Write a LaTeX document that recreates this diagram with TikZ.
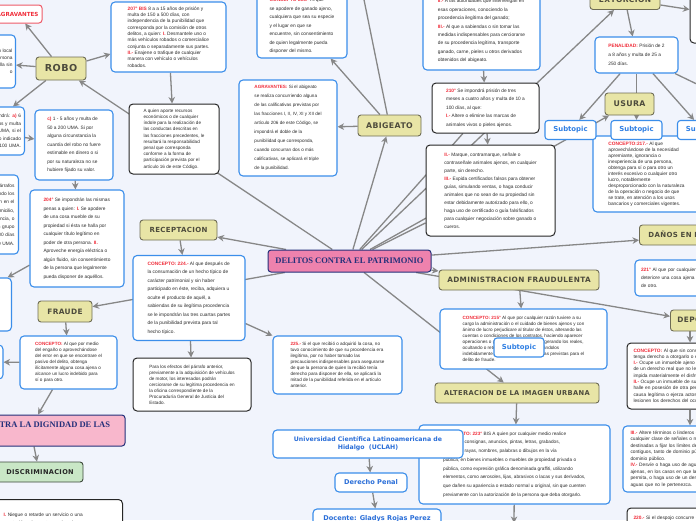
\documentclass[tikz,border=0pt]{standalone}
\usepackage{fontspec}
\setmainfont{Liberation Sans}
\newfontfamily\topf[LetterSpace=5]{DejaVu Sans}
\newfontfamily\uniff{DejaVu Sans}
\newfontfamily\serf{Liberation Serif}
\usetikzlibrary{arrows.meta,calc}
\pgfdeclarelayer{bg}
\pgfsetlayers{bg,main}
\definecolor{bgc}{HTML}{F1F4FC}
\definecolor{blueB}{HTML}{3B8EEA}
\definecolor{redT}{HTML}{F02D3A}
\definecolor{txt}{HTML}{2B2B2B}
\definecolor{khaki}{HTML}{E8E5A6}
\definecolor{khakiB}{HTML}{6F6D55}
\definecolor{topT}{HTML}{4D4B3C}
\definecolor{arrC}{HTML}{878787}
\definecolor{pinkC}{HTML}{EE82AD}
\definecolor{pinkL}{HTML}{F8B7CC}
\definecolor{navy}{HTML}{24307A}
\definecolor{greenF}{HTML}{C9E7C6}
\definecolor{greenB}{HTML}{3E4A3C}
\definecolor{subT}{HTML}{2F7FE3}
\definecolor{uniT}{HTML}{2A6ED8}
\definecolor{agrB}{HTML}{EE5A68}
\newcommand\rd[1]{\textcolor{redT}{\bfseries #1}}
\newcommand\fs[2]{\fontsize{#1}{#2}\selectfont}
\tikzset{
  tbox/.style={draw=blueB, line width=1.1pt, fill=white, rounded corners=4pt, align=left, inner sep=0pt, text=txt},
  kbox/.style={draw=black!85, line width=1pt, fill=white, rounded corners=4pt, align=left, inner sep=0pt, text=txt},
  topic/.style={draw=khakiB, line width=0.9pt, fill=khaki, rounded corners=3pt, text=topT, inner sep=0pt},
  subt/.style={draw=blueB, line width=1.1pt, fill=white, rounded corners=3pt, text=subT, font=\uniff\bfseries\fs{6.9}{8}, minimum width=51pt, minimum height=19pt, inner sep=0pt},
  conn/.style={draw=arrC, line width=1.3pt, -{Stealth[length=6.5pt,width=6.5pt,inset=2pt]}},
  plainl/.style={draw=arrC, line width=1.3pt},
}
\begin{document}
\begin{tikzpicture}[x=1pt,y=-1pt]
\useasboundingbox (0,0) rectangle (696,520);
\begin{pgfonlayer}{bg}
\fill[bgc] (0,0) rectangle (696,520);
\end{pgfonlayer}

% ---------- text boxes ----------
\node[tbox, minimum width=92pt, minimum height=53pt, anchor=east, text width=86pt, align=right, font=\fs{4.8}{7}] (Ttl) at (16,61.5) {Si el robo se comete en un local\\ o en casa habitada por una persona\\ y el activo entra en ella sin\\ o};
\node[tbox, minimum width=85pt, minimum height=48pt, anchor=east, text width=78pt, align=right, font=\fs{4.8}{7.5}] (Tb) at (25,131) {Se impondrá: \rd{a)} 6\\ meses a 2 años y multa\\ de 20 a 100 UMA, si el\\ valor no excede lo indicado\\ de 100 UMA.};
\node[tbox, minimum width=98pt, minimum height=79pt, anchor=east, text width=90pt, align=right, font=\fs{4.8}{8.3}] (Tl2) at (19,214.5) {Las penas de los párrafos\\ se duplicarán cuando los\\ hechos se cometan en el\\ interior de un domicilio,\\ con violencia, o\\ por medio de un grupo\\ y multa de 100 a 300 días\\ o hasta 300 UMA.};
\node[tbox, minimum width=104pt, minimum height=53pt, anchor=east] (Tl3) at (12,304.5) {};
\node[tbox, minimum width=90pt, minimum height=34pt, anchor=east] (Tl4) at (3.5,362) {};

\node[tbox, minimum width=115pt, minimum height=70pt, font=\fs{4.8}{6.3}] (T207) at (168.5,37) {\rd{207° BIS} 8 a a 15 años de prisión y\\ multa de 150 a 500 días, con\\ independencia de la punibilidad que\\ corresponda por la comisión de otros\\ delitos, a quien: \rd{I.} Desmantele uno o\\ más vehículos robados o comercialice\\ conjunta o separadamente sus partes.\\ \rd{II.-} Enajene o trafique de cualquier\\ manera con vehículo o vehículos\\ robados.};
\node[kbox, minimum width=90pt, minimum height=70pt, font=\fs{4.6}{6.2}] (Tblk1) at (174,139) {A quien aporte recursos\\ económicos o de cualquier\\ índole para la realización de\\ las conductas descritas en\\ las fracciones precedentes, le\\ resultará la responsabilidad\\ penal que corresponda\\ conforme a la forma de\\ participación prevista por el\\ artículo 16 de este Código.};
\node[tbox, minimum width=78pt, minimum height=70pt, font=\fs{4.8}{8.5}] (Tc) at (74,145) {\rd{c)} 1 - 5 años y multa de\\ 50 a 200 UMA. Si por\\ alguna circunstancia la\\ cuantía del robo no fuere\\ estimable en dinero o si\\ por su naturaleza no se\\ hubiere fijado su valor.};
\node[tbox, minimum width=94pt, minimum height=97pt, font=\fs{4.8}{8.5}] (T204) at (77,238.5) {\rd{204°} Se impondrán las mismas\\ penas a quien: \rd{I.} Se apodere\\ de una cosa mueble de su\\ propiedad si ésta se halla por\\ cualquier título legítimo en\\ poder de otra persona. \rd{II.}\\ Aproveche energía eléctrica o\\ algún fluido, sin consentimiento\\ de la persona que legalmente\\ pueda disponer de aquéllos.};
\node[tbox, minimum width=97pt, minimum height=53pt, font=\fs{4.6}{6}] (TFR) at (68.5,362.5) {\rd{CONCEPTO:} Al que por medio\\ del engaño o aprovechándose\\ del error en que se encontrare el\\ pasivo del delito, obtenga\\ ilícitamente alguna cosa ajena o\\ alcance un lucro indebido para\\ sí o para otro.};
\node[kbox, minimum width=127pt, minimum height=40pt, anchor=north west, text width=111pt, inner xsep=8pt, inner ysep=5pt, font=\fs{4.8}{8}] (Tbot) at (-5,499) {\rd{I.} Niegue o retarde un servicio o una\\ prestación a la que tenga derecho;};

\node[tbox, minimum width=90pt, minimum height=64pt, font=\fs{4.8}{8.5}] (T206) at (302,26) {\rd{CONCEPTO 206.-} Al que\\ se apodere de ganado ajeno,\\ cualquiera que sea su especie\\ y el lugar en que se\\ encuentre, sin consentimiento\\ de quien legalmente pueda\\ disponer del mismo.};
\node[tbox, minimum width=98pt, minimum height=96pt, font=\fs{4.6}{9}] (TAGR) at (288,128) {\rd{AGRAVANTES:} Si el abigeato\\ se realiza concurriendo alguna\\ de las calificativas previstas por\\ las fracciones I, II, IV, XI y XII del\\ artículo 206 de este Código, se\\ impondrá el doble de la\\ punibilidad que corresponda,\\ cuando concurran dos o más\\ calificativas, se aplicará el triple\\ de la punibilidad.};
\node[tbox, minimum width=117pt, minimum height=78pt, font=\fs{4.8}{8.4}] (TII) at (481.5,31) {\rd{II.-} A las autoridades que intervengan en\\ esas operaciones, conociendo la\\ procedencia ilegítima del ganado;\\ \rd{III.-} Al que a sabiendas o sin tomar las\\ medidas indispensables para cerciorarse\\ de su procedencia legítima, transporte\\ ganado, carne, pieles u otros derivados\\ obtenidos del abigeato.};
\node[kbox, minimum width=107pt, minimum height=50pt, font=\fs{4.8}{8.5}] (T210) at (485.5,108) {\rd{210°} Se impondrá prisión de tres\\ meses a cuatro años y multa de 10 a\\ 100 días, al que:\\ \rd{I.-} Altere o elimine las marcas de\\ animales vivos o pieles ajenos.};
\node[kbox, minimum width=129pt, minimum height=91pt, font=\fs{4.8}{8}] (TIIb) at (490.5,190.5) {\rd{II.-} Marque, contramarque, señale o\\ contraseñale animales ajenos, en cualquier\\ parte, sin derecho.\\ \rd{III.-} Expida certificados falsos para obtener\\ guías, simulando ventas, o haga conducir\\ animales que no sean de su propiedad sin\\ estar debidamente autorizado para ello, o\\ haga uso de certificado o guía falsificados\\ para cualquier negociación sobre ganado o\\ cueros.};
\node[kbox, minimum width=90pt, minimum height=53pt] (Ttr) at (735,16.5) {};
\node[tbox, minimum width=83pt, minimum height=36pt, font=\fs{4.8}{9}] (TPEN) at (636.5,55) {\rd{PENALIDAD:} Prisión de 2\\ a 8 años y multa de 25 a\\ 250 días.};
\node[tbox, minimum width=107pt, minimum height=76pt, font=\fs{4.8}{6}] (T217) at (646.5,174) {\rd{CONCEPTO:217.-} Al que\\ aprovechándose de la necesidad\\ apremiante, ignorancia o\\ inexperiencia de una persona,\\ obtenga para sí o para otro un\\ interés excesivo o cualquier otro\\ lucro, notablemente\\ desproporcionado con la naturaleza\\ de la operación o negocio de que\\ se trate, en atención a los usos\\ bancarios y comerciales vigentes.};
\node[tbox, minimum width=152pt, minimum height=36pt, text width=140pt, font=\fs{4.8}{8}] (T221) at (711,278) {\rd{221°} Al que por cualquier medio destruya o\\ deteriore una cosa ajena o propia en perjuicio\\ de otro.};
\node[kbox, minimum width=173pt, minimum height=66pt, text width=160pt, font=\fs{4.8}{6.3}] (TDESP) at (713.5,376) {\rd{CONCEPTO:} Al que sin consentimiento de quien\\ tenga derecho a otorgarlo o engañando a éste:\\ \rd{I.-} Ocupe un inmueble ajeno o haga uso de él, o\\ de un derecho real que no le pertenezca, o\\ impida materialmente el disfrute de éstos;\\ \rd{II.-} Ocupe un inmueble de su propiedad que se\\ halle en posesión de otra persona por alguna\\ causa legítima o ejerza actos de dominio que\\ lesionen los derechos del ocupante.};
\node[tbox, minimum width=177pt, minimum height=66pt, text width=162pt, font=\fs{4.8}{6.5}] (TIII) at (711.5,459) {\rd{III.-} Altere términos o linderos de predios o\\ cualquier clase de señales o mojoneras\\ destinadas a fijar los límites de predios\\ contiguos, tanto de dominio público como de\\ dominio público.\\ \rd{IV.-} Desvíe o haga uso de aguas propias o\\ ajenas, en los casos en que la ley no lo\\ permita, o haga uso de un derecho real sobre\\ aguas que no le pertenezca.};
\node[kbox, minimum width=173pt, minimum height=20pt, text width=160pt, font=\fs{4.8}{6}] (T220) at (713.5,518) {\rd{220.-} Si el despojo concurre con violencia o amenaza};

\node[tbox, minimum width=191pt, minimum height=79pt, font=\fs{4.7}{8.7}] (T223) at (514.5,464.5) {\rd{CONCEPTO: 223°} BIS A quien por cualquier medio realice\\ leyendas, consignas, anuncios, pintas, letras, grabados,\\ símbolos, rayas, nombres, palabras o dibujos en la vía\\ pública, en bienes inmuebles o muebles de propiedad privada o\\ pública, como expresión gráfica denominada graffiti, utilizando\\ elementos, como aerosoles, lijas, abrasivos o lacas y sus derivados,\\ que dañen su apariencia o estado normal u original, sin que cuenten\\ previamente con la autorización de la persona que deba otorgarlo.};
\node[tbox, minimum width=167pt, minimum height=60pt, font=\fs{4.6}{6}] (T215) at (523.5,339) {\rd{CONCEPTO: 215°} Al que por cualquier razón tuviere a su\\ cargo la administración o el cuidado de bienes ajenos y con\\ ánimo de lucro perjudicare al titular de éstos, alterando las\\ cuentas o condiciones de los contratos, haciendo aparecer\\ operaciones o gastos inexistentes o exagerando los reales,\\ ocultando o reteniendo valores o empleándolos\\ indebidamente, se le impondrán las penas previstas para el\\ delito de fraude.};
\node[tbox, minimum width=112pt, minimum height=85pt, font=\fs{4.8}{8.5}] (T224) at (189,298) {\rd{CONCEPTO: 224.-} Al que después de\\ la consumación de un hecho típico de\\ carácter patrimonial y sin haber\\ participado en éste, reciba, adquiera u\\ oculte el producto de aquél, a\\ sabiendas de su ilegítima procedencia\\ se le impondrán las tres cuartas partes\\ de la punibilidad prevista para tal\\ hecho típico.};
\node[tbox, minimum width=129pt, minimum height=58pt, font=\fs{4.6}{6}] (T225) at (337.5,365) {\rd{225.-} Si el que recibió o adquirió la cosa, no\\ tuvo conocimiento de que su procedencia era\\ ilegítima, por no haber tomado las\\ precauciones indispensables para asegurarse\\ de que la persona de quien la recibió tenía\\ derecho para disponer de ella, se aplicará la\\ mitad de la punibilidad referida en el artículo\\ anterior.};
\node[kbox, minimum width=118pt, minimum height=53pt, font=\fs{4.6}{6}] (Tpara) at (192,384.5) {Para los efectos del párrafo anterior,\\ previamente a la adquisición de vehículos\\ de motor, los interesados podrán\\ cerciorarse de su legítima procedencia en\\ la oficina correspondiente de la\\ Procuraduría General de Justicia del\\ Estado.};

% ---------- topics ----------
\node[draw=navy, line width=1pt, fill=pinkC, rounded corners=3pt, minimum width=163pt, minimum height=22pt, inner sep=0pt, text=navy, font=\serf\bfseries\fs{8.5}{10}] (ctr) at (349.5,261) {DELITOS CONTRA EL PATRIMONIO};
\node[draw=navy, line width=1pt, fill=pinkL, rounded corners=3pt, minimum width=199pt, minimum height=31pt, inner sep=0pt, align=left, text=navy, font=\serf\bfseries\fs{8.5}{11}] (dig) at (25.5,430.5) {DELITOS CONTRA LA DIGNIDAD DE LAS\\PERSONAS};
\node[draw=greenB, line width=0.9pt, fill=greenF, rounded corners=3pt, minimum width=86pt, minimum height=20pt, inner sep=0pt, text=black!85, font=\topf\bfseries\fs{6.6}{8}] (disc) at (40,472) {DISCRIMINACION};
\node[draw=agrB, line width=1pt, fill=white, rounded corners=3pt, minimum height=18pt, inner xsep=3.5pt, inner ysep=0pt, anchor=east, text=redT, font=\uniff\bfseries\fs{5.6}{6}] (agr) at (42.5,14) {AGRAVANTES};

\node[topic, minimum width=50pt, minimum height=23pt, font=\topf\bfseries\fs{9.6}{11}] (robo) at (61,68.5) {ROBO};
\node[topic, minimum width=63pt, minimum height=21pt, font=\topf\bfseries\fs{7.8}{9}] (abig) at (389.5,125.5) {ABIGEATO};
\node[topic, minimum width=70pt, minimum height=20pt, font=\topf\bfseries\fs{7.5}{9}] (extor) at (625,-0.5) {EXTORCION};
\node[topic, minimum width=49pt, minimum height=22pt, font=\topf\bfseries\fs{7.8}{9}] (usura) at (629.5,104) {USURA};
\node[topic, minimum height=20pt, inner xsep=9pt, anchor=west, font=\topf\bfseries\fs{7}{9}] (danos) at (639,235) {DAÑOS EN PROPIEDAD AJENA};
\node[topic, minimum height=21pt, inner xsep=7pt, anchor=west, font=\topf\bfseries\fs{7.4}{9}] (desp) at (670,320.5) {DEPOJO};
\node[topic, minimum width=160pt, minimum height=20pt, font=\topf\bfseries\fs{7.3}{9}] (admin) at (519,280) {ADMINISTRACION FRAUDULENTA};
\node[topic, minimum width=164pt, minimum height=20pt, font=\topf\bfseries\fs{6.7}{9}] (alter) at (517,393) {ALTERACION DE LA IMAGEN URBANA};
\node[topic, minimum width=77pt, minimum height=20pt, font=\topf\bfseries\fs{7}{9}] (recep) at (178.5,230) {RECEPTACION};
\node[topic, minimum width=54pt, minimum height=21pt, font=\topf\bfseries\fs{7.4}{9}] (fraude) at (65,311.5) {FRAUDE};

\node[subt] (s1) at (570.5,130) {Subtopic};
\node[subt] (s2) at (636.5,130) {Subtopic};
\node[subt] (s3) at (703,130) {Subtopic};
\node[subt, minimum width=50pt] (s4) at (519,347.5) {Subtopic};

\node[draw=blueB, line width=1.1pt, fill=white, rounded corners=4pt, minimum width=190pt, minimum height=28pt, inner sep=0pt, align=center, text=uniT, font=\uniff\bfseries\fs{6.2}{8}] (univ) at (368,444) {Universidad Científica Latinoamericana de\\Hidalgo\ \ (UCLAH)};
\node[draw=blueB, line width=1.1pt, fill=white, rounded corners=4pt, minimum width=72pt, minimum height=19pt, inner sep=0pt, text=uniT, font=\uniff\bfseries\fs{6.6}{8}] (der) at (371,482.5) {Derecho Penal};
\node[draw=blueB, line width=1.1pt, fill=white, rounded corners=4pt, minimum width=128pt, minimum height=19pt, inner sep=0pt, text=uniT, font=\uniff\bfseries\fs{6.6}{8}] (doc) at (377,518.5) {Docente: Gladys Rojas Perez};

\coordinate (abigUp) at (360,-20);
\coordinate (penR) at (730,100);
\coordinate (belowT) at (514,523);
\coordinate (dA) at (690,0);

% ---------- connectors ----------
\begin{pgfonlayer}{bg}
\draw[conn] (ctr) -- (robo);
\draw[conn] (robo) -- (agr);
\draw[conn] (robo) -- (Ttl);
\draw[conn] (robo) -- (Tb);
\draw[conn] (robo) -- (T207);
\draw[conn] (T207) -- (Tblk1);
\draw[conn] (Tb) -- (Tc);
\draw[conn] (Tc) -- (T204);
\draw[conn] (T204) -- (Tl3);
\draw[conn] (ctr) -- (recep);
\draw[conn] (recep) -- (T224);
\draw[conn] (ctr) -- (fraude);
\draw[conn] (fraude) -- (TFR);
\draw[conn] (TFR) -- (Tl4);
\draw[conn] ([xshift=-16pt]TFR.south) -- ([xshift=12.5pt]dig.north);
\draw[conn] ([xshift=8.5pt]dig.south) -- ([xshift=-3pt]disc.north);
\draw[conn] (T224) -- (T225);
\draw[conn] (T224) -- (Tpara);
\draw[conn] (ctr) -- (abig);
\draw[conn] (abig) -- (T206);
\draw[conn] (abig) -- (TAGR);
\draw[plainl] (abig) -- (abigUp);
\draw[conn] (TII) -- (T210);
\draw[conn] (T210) -- (TIIb);
\draw[plainl] (ctr) -- (T210);
\draw[plainl] (ctr) -- (TIIb);
\draw[conn] (ctr) -- (extor);
\draw[conn] (ctr) -- (usura);
\draw[conn] (extor) -- (TPEN);
\draw[conn] (extor) -- (Ttr);
\draw[conn] (TPEN) -- (s1);
\draw[conn] (TPEN) -- (s2);
\draw[conn] (TPEN) -- (s3);
\draw[plainl] (TPEN) -- (penR);
\draw[conn] (ctr) -- (danos);
\draw[conn] (ctr) -- (admin);
\draw[conn] (admin) -- (T215);
\draw[conn] (ctr) -- (desp);
\draw[conn] (dA |- desp.south) -- (dA |- TDESP.north);
\draw[conn] (dA |- TDESP.south) -- (dA |- TIII.north);
\draw[conn] (ctr) -- (alter);
\draw[conn] (alter) -- (T223);
\draw[conn] (T223) -- (belowT);
\draw[conn] (univ) -- (der);
\draw[conn] (der) -- (doc);
\end{pgfonlayer}
\end{tikzpicture}
\end{document}
